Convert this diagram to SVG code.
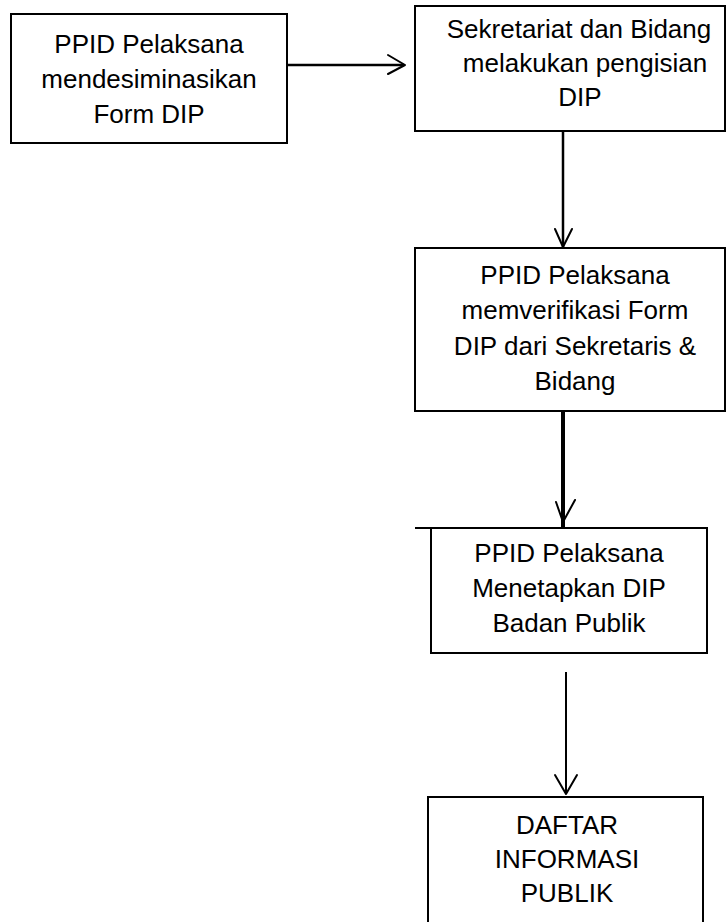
<svg xmlns="http://www.w3.org/2000/svg" width="726" height="922" viewBox="0 0 726 922">
<style>
.box{fill:#fff;stroke:#000;stroke-width:2}
.t{font-family:"Liberation Sans",Arial,sans-serif;font-size:26px;fill:#000;text-anchor:middle}
.c{fill:none;stroke:#000;stroke-width:2.5}
.h{fill:none;stroke:#000;stroke-width:2;stroke-linecap:round;stroke-linejoin:round}
</style>
<rect width="726" height="922" fill="#fff"/>
<g id="n1">
<rect class="box" x="11" y="14" width="276" height="129"/>
<text class="t" x="149" y="53">PPID Pelaksana</text>
<text class="t" x="149" y="88">mendesiminasikan</text>
<text class="t" x="149" y="123">Form DIP</text>
</g>
<g id="n2">
<rect class="box" x="415" y="6" width="310" height="125"/>
<text class="t" x="579" y="38">Sekretariat dan Bidang</text>
<text class="t" x="585" y="72">melakukan pengisian</text>
<text class="t" x="580" y="106">DIP</text>
</g>
<g id="n3">
<rect class="box" x="415" y="248" width="310" height="163"/>
<text class="t" x="575" y="284">PPID Pelaksana</text>
<text class="t" x="575" y="319">memverifikasi Form</text>
<text class="t" x="575" y="355">DIP dari Sekretaris &amp;</text>
<text class="t" x="575" y="390">Bidang</text>
</g>
<g id="n4">
<rect class="box" x="431" y="528" width="276" height="125"/>
<line class="box" x1="415" y1="528" x2="431" y2="528"/>
<text class="t" x="569" y="562">PPID Pelaksana</text>
<text class="t" x="569" y="597">Menetapkan DIP</text>
<text class="t" x="569" y="632">Badan Publik</text>
</g>
<g id="n5">
<rect class="box" x="428" y="797" width="275" height="140"/>
<text class="t" x="567" y="834">DAFTAR</text>
<text class="t" x="567" y="868">INFORMASI</text>
<text class="t" x="567" y="902">PUBLIK</text>
</g>
<g id="connectors">
<line class="c" x1="287" y1="65" x2="404" y2="65"/>
<polyline class="h" points="388,55 405,65 388,74"/>
<line class="c" x1="563" y1="131" x2="563" y2="247"/>
<polyline class="h" points="555,229 563,247 572,229"/>
<line class="c" x1="563" y1="411" x2="563" y2="527" style="stroke-width:4"/>
<polyline class="h" points="556,502 563,522 575,500"/>
<line class="c" x1="566" y1="672" x2="566" y2="793" style="stroke-width:2"/>
<polyline class="h" points="555,775 566,794 577,775"/>
</g>
</svg>
